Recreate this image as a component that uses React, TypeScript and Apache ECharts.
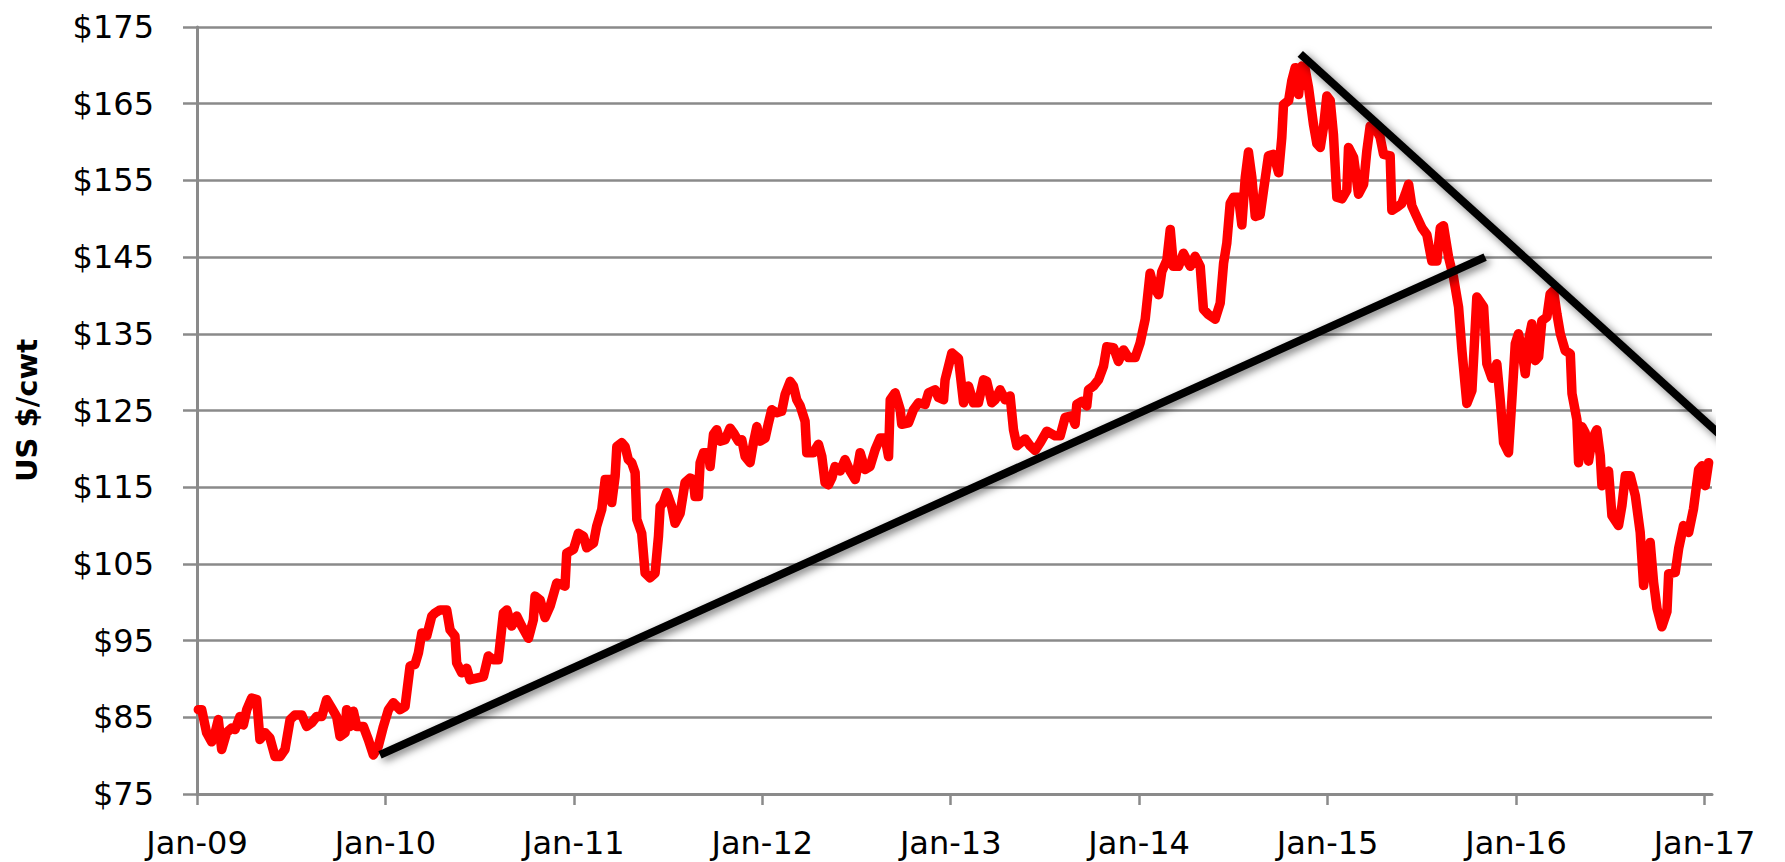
import React, { useEffect, useRef } from "react";
import * as echarts from "echarts";

// time in years since Jan 1 2009
const timeSince2009 = [
  0.007, 0.025, 0.051, 0.078, 0.096, 0.113, 0.131, 0.157, 0.184, 0.202, 0.228, 0.246, 0.264, 0.29, 0.317, 0.334,
  0.361, 0.387, 0.414, 0.441, 0.467, 0.494, 0.52, 0.556, 0.582, 0.609, 0.635, 0.662, 0.688, 0.715, 0.741, 0.759,
  0.786, 0.794, 0.812, 0.83, 0.848, 0.883, 0.909, 0.936, 0.962, 0.989, 1.016, 1.042, 1.077, 1.104, 1.131, 1.157,
  1.175, 1.193, 1.219, 1.246, 1.263, 1.29, 1.325, 1.343, 1.369, 1.378, 1.405, 1.431, 1.449, 1.484, 1.52, 1.546,
  1.573, 1.599, 1.626, 1.644, 1.67, 1.697, 1.723, 1.759, 1.785, 1.794, 1.821, 1.847, 1.874, 1.909, 1.935, 1.953,
  1.962, 1.998, 2.024, 2.051, 2.068, 2.104, 2.121, 2.148, 2.166, 2.192, 2.201, 2.219, 2.228, 2.254, 2.272, 2.289,
  2.307, 2.325, 2.334, 2.36, 2.378, 2.404, 2.431, 2.449, 2.458, 2.475, 2.493, 2.519, 2.537, 2.564, 2.59, 2.617,
  2.634, 2.643, 2.661, 2.67, 2.688, 2.714, 2.723, 2.741, 2.758, 2.776, 2.803, 2.829, 2.847, 2.873, 2.891, 2.909,
  2.935, 2.953, 2.971, 2.988, 3.015, 3.033, 3.05, 3.077, 3.103, 3.121, 3.148, 3.165, 3.183, 3.201, 3.227, 3.236,
  3.271, 3.298, 3.316, 3.333, 3.351, 3.369, 3.386, 3.413, 3.439, 3.466, 3.493, 3.51, 3.519, 3.546, 3.572, 3.599,
  3.625, 3.652, 3.67, 3.679, 3.705, 3.732, 3.74, 3.776, 3.802, 3.829, 3.864, 3.882, 3.917, 3.935, 3.962,
  3.97, 4.006, 4.041, 4.068, 4.094, 4.121, 4.147, 4.174, 4.191, 4.218, 4.236, 4.262, 4.289, 4.315, 4.333, 4.351,
  4.395, 4.421, 4.448, 4.475, 4.51, 4.554, 4.581, 4.607, 4.643, 4.66, 4.669, 4.696, 4.722, 4.731, 4.758, 4.784,
  4.811, 4.828, 4.864, 4.89, 4.917, 4.943, 4.979, 5.005, 5.032, 5.058, 5.076, 5.103, 5.12, 5.147, 5.165, 5.182,
  5.209, 5.235, 5.253, 5.271, 5.297, 5.324, 5.341, 5.368, 5.403, 5.43, 5.448, 5.465, 5.483, 5.501, 5.527, 5.545,
  5.563, 5.58, 5.598, 5.616, 5.642, 5.66, 5.686, 5.713, 5.74, 5.757, 5.766, 5.793, 5.81, 5.828, 5.846, 5.863,
  5.881, 5.899, 5.925, 5.943, 5.961, 5.978, 5.996, 6.014, 6.031, 6.049, 6.076, 6.102, 6.111, 6.138, 6.164, 6.191,
  6.208, 6.226, 6.253, 6.279, 6.297, 6.332, 6.341, 6.368, 6.394, 6.412, 6.43, 6.447, 6.465,
  6.501, 6.527, 6.553, 6.58, 6.598, 6.615, 6.642, 6.668, 6.695, 6.713, 6.739, 6.766, 6.792, 6.828, 6.845, 6.872,
  6.898, 6.916, 6.934, 6.96, 6.978, 6.996, 7.013, 7.031, 7.049, 7.066, 7.084, 7.102, 7.12, 7.137, 7.164, 7.181,
  7.199, 7.217, 7.235, 7.261, 7.288, 7.297, 7.323, 7.332, 7.35, 7.367, 7.385, 7.403, 7.429, 7.447, 7.456, 7.491,
  7.509, 7.544, 7.562, 7.58, 7.606, 7.633, 7.659, 7.677, 7.695, 7.712, 7.73, 7.748, 7.774, 7.801, 7.81, 7.845,
  7.863, 7.889, 7.916, 7.942, 7.969, 7.987, 8.004, 8.022,
];

// US $/cwt
const price = [
  86, 86, 83, 81.8, 83, 84.7, 80.8, 83, 83.6, 83.4, 85.1, 84, 86, 87.5, 87.3, 82.1,
  83, 82.3, 79.9, 79.9, 80.8, 84.7, 85.3, 85.3, 83.8, 84.3, 85.1, 85.1, 87.3, 86.2, 85.1, 82.5,
  83, 86, 83.8, 85.8, 83.8, 83.8, 82.1, 80.1, 81.2, 83.8, 86, 86.9, 86, 86.4, 91.7, 91.9,
  93.4, 96, 95.6, 98.2, 98.6, 99, 99, 96.4, 95.6, 92.1, 90.8, 91.4, 89.9, 90.1, 90.3, 93,
  92.5, 92.5, 98.6, 99, 96.9, 98.2, 96.9, 95.3, 97.7, 100.8, 100.3, 98, 99.5, 102.5, 102.3, 102.1,
  106.4, 106.9, 109, 108.6, 107.1, 107.7, 109.9, 112.1, 116, 116, 113, 116.4, 120.3, 120.8, 120.3, 118.6,
  118.2, 116.9, 110.8, 109, 103.8, 103.2, 103.8, 108.6, 112.5, 113, 114.3, 112.5, 110.3, 111.6, 115.6, 116.2,
  116, 113.8, 113.8, 118.2, 119.5, 119.5, 117.7, 121.9, 122.5, 121, 121.2, 122.7, 122.1, 121, 121.2, 119,
  118.2, 120.8, 122.9, 121, 121.4, 123.4, 125.1, 124.7, 124.9, 127.1, 128.8, 128.2, 126.4, 125.6, 123.6, 119.5,
  119.5, 120.6, 119, 115.6, 115.3, 116.2, 117.7, 117.1, 118.6, 117.1, 116, 118.2, 119.5, 117.3, 117.7, 119.9,
  121.4, 121.4, 119, 126.4, 127.3, 125.1, 123.2, 123.4, 125.1, 126, 125.8, 127.3, 127.7, 126.7, 126.4,
  129, 132.5, 131.8, 126, 128.2, 126, 126, 129, 128.8, 126, 126.4, 127.7, 126.4, 126.9, 122.5, 120.4,
  121.3, 120.4, 119.8, 120.8, 122.3, 121.7, 121.7, 124.1, 124.3, 123.2, 125.8, 126.2, 125.6, 127.7, 128.2, 129,
  130.8, 133.3, 133.2, 131.4, 132.9, 131.9, 131.9, 133.8, 136.9, 142.9, 141.2, 140.1, 143.1, 144.6, 148.6, 143.8,
  143.8, 145.5, 144.6, 143.8, 145.1, 143.8, 138.2, 137.5, 136.9, 139, 144.2, 146.8, 152, 152.8, 152.8, 149.2,
  155.4, 158.7, 155.4, 150.3, 150.5, 153.7, 158.2, 158.4, 156, 160.6, 164.9, 165.4, 168, 169.7, 166.2, 169.9,
  169.5, 167.1, 162.3, 159.8, 159.3, 161.9, 166, 165.4, 161, 152.8, 152.6, 153.7, 159.3, 158, 153.2, 154.5,
  158.8, 162.1, 161.9, 160.6, 158.4, 158.2, 151.1, 151.5, 152, 153.2, 154.5, 151.7, 150.7,
  148.8, 147.9, 144.5, 144.5, 148.8, 149.1, 145, 142.4, 138.5, 132.8, 125.9, 127.6, 139.8, 138.5, 131.1, 129.2,
  131.1, 126.4, 120.8, 119.5, 126.4, 133.7, 135, 132.8, 129.8, 134.1, 136.3, 131.5, 132, 136.7, 137.2, 140.2,
  140.6, 137.6, 135, 132.8, 132.4, 127.2, 123.8, 118.2, 122.9, 122.1, 118.4, 121.2, 122.5, 119.1, 115.2, 117.1,
  111.3, 110, 112.6, 116.5, 116.5, 113.9, 109.1, 102.2, 106.1, 107.8, 102.6, 99.2, 96.8, 98.8, 103.7, 103.9,
  107, 110, 109.1, 112.2, 117.3, 117.8, 115.2, 118.2,
];

// trend lines: [years since 2009, price]
const supportLine = [
  [0.971, 80.1],
  [6.836, 145.0],
];
const resistanceLine = [
  [5.855, 171.5],
  [8.111, 121.2],
];

const yearTicks = [2009, 2010, 2011, 2012, 2013, 2014, 2015, 2016, 2017];
const yMin = 75;
const yMax = 175;
const yStep = 10;

const GRID_GREY = "#8a8a8a";

export default function App() {
  const ref = useRef<HTMLDivElement>(null);

  useEffect(() => {
    if (!ref.current) return;
    const chart = echarts.init(ref.current, null, { renderer: "svg" });

    const redData = timeSince2009.map((t, i) => [2009 + t, price[i]]);
    const toAbs = (pts: number[][]) => pts.map((p) => [2009 + p[0], p[1]]);

    const trendStyle = {
      color: "#000000",
      width: 8,
      cap: "butt",
      shadowColor: "rgba(0,0,0,0.55)",
      shadowBlur: 8,
      shadowOffsetX: 3,
      shadowOffsetY: 3,
    };

    chart.setOption({
      animation: false,
      backgroundColor: "#ffffff",
      grid: { left: 197, right: 73, top: 27, bottom: 68, containLabel: false },
      xAxis: {
        type: "value",
        min: 2009,
        max: 2017.04,
        interval: 1,
        axisLine: { show: true, onZero: false, lineStyle: { color: GRID_GREY, width: 3 } },
        axisTick: {
          show: true,
          length: 11,
          inside: false,
          customValues: yearTicks,
          lineStyle: { color: GRID_GREY, width: 2.5 },
        },
        axisLabel: {
          show: true,
          customValues: yearTicks,
          margin: 33,
          fontFamily: "DejaVu Sans",
          fontSize: 32,
          color: "#000000",
          formatter: (v: number) => {
            if (Math.abs(v - Math.round(v)) > 0.001) return "";
            return "Jan-" + String(Math.round(v) - 2000).padStart(2, "0");
          },
        },
        splitLine: { show: false },
      },
      yAxis: {
        type: "value",
        min: yMin,
        max: yMax,
        interval: yStep,
        name: "US $/cwt",
        nameLocation: "middle",
        nameGap: 156,
        nameTextStyle: {
          fontFamily: "DejaVu Sans",
          fontWeight: "bold",
          fontSize: 29,
          color: "#000000",
        },
        axisLine: { show: true, lineStyle: { color: GRID_GREY, width: 3 } },
        axisTick: { show: true, length: 14, inside: false, lineStyle: { color: GRID_GREY, width: 2.5 } },
        axisLabel: {
          margin: 43,
          fontFamily: "DejaVu Sans",
          fontSize: 32,
          color: "#000000",
          formatter: (v: number) => "$" + v,
        },
        splitLine: { show: true, lineStyle: { color: GRID_GREY, width: 2.5 } },
      },
      series: [
        {
          name: "Price",
          type: "line",
          data: redData,
          showSymbol: false,
          symbol: "none",
          lineStyle: { color: "#ff0000", width: 9.5, join: "round", cap: "round" },
          z: 2,
        },
        {
          name: "Support",
          type: "line",
          data: toAbs(supportLine),
          symbol: "none",
          clip: false,
          lineStyle: trendStyle,
          z: 3,
        },
        {
          name: "Resistance",
          type: "line",
          data: toAbs(resistanceLine),
          symbol: "none",
          clip: false,
          lineStyle: trendStyle,
          z: 3,
        },
      ],
    });

    return () => chart.dispose();
  }, []);

  return (
    <div
      ref={ref}
      style={{ position: "absolute", left: 0, top: 0, width: 1785, height: 862, background: "#fff" }}
    />
  );
}
